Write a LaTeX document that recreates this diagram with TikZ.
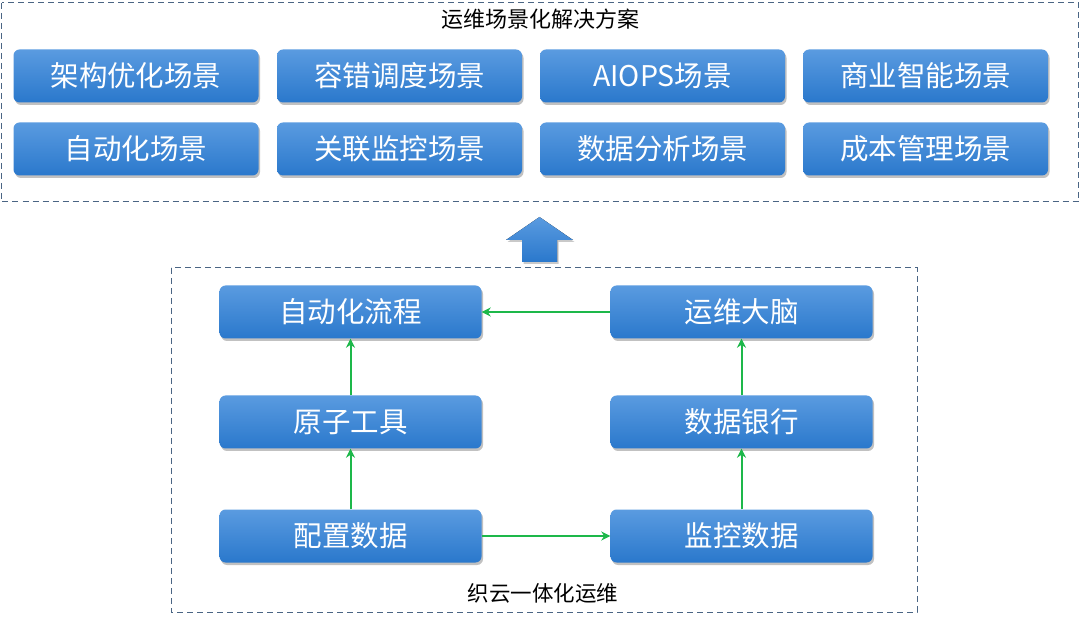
\documentclass[tikz,border=0pt]{standalone}
\usepackage{fontspec}
\newfontfamily\cjk{Noto Sans CJK SC}
\usetikzlibrary{shadows,arrows.meta}
\definecolor{btop}{HTML}{5A9BE0}
\definecolor{bbot}{HTML}{2A78CC}
\definecolor{dashc}{HTML}{4A6584}
\definecolor{garrow}{HTML}{1DB84A}
\tikzset{
  bluebox/.style={rounded corners=6pt, top color=btop, bottom color=bbot, draw=none,
    text=white, font=\cjk\fontsize{28.5}{30}\selectfont, inner sep=0pt,
    drop shadow={shadow xshift=1.5pt, shadow yshift=-2.5pt, opacity=0.35, fill=black!70}},
  topbox/.style={bluebox, minimum width=245pt, minimum height=53pt},
  midbox/.style={bluebox, minimum width=262pt, minimum height=53pt},
  frame/.style={draw=dashc, dashed, dash pattern=on 6pt off 4pt, line width=1pt},
  garr/.style={draw=garrow, line width=2pt, -{Stealth[length=9pt,width=9pt]}},
  lbl/.style={text=black, inner sep=0pt}
}
\begin{document}
\begin{tikzpicture}[x=1pt,y=-1pt]
\useasboundingbox (0,0) rectangle (1080,620);
% top frame
\draw[frame] (1.5,3) rectangle (1078.5,202);
\node[lbl, font=\cjk\fontsize{22}{24}\selectfont] (t1) at (540,19) {运维场景化解决方案};
\node[topbox] (a1) at (136,76) {架构优化场景};
\node[topbox] (a2) at (399.5,76) {容错调度场景};
\node[topbox] (a3) at (662.5,76) {AIOPS场景};
\node[topbox] (a4) at (925.5,76) {商业智能场景};
\node[topbox] (b1) at (136,149) {自动化场景};
\node[topbox] (b2) at (399.5,149) {关联监控场景};
\node[topbox] (b3) at (662.5,149) {数据分析场景};
\node[topbox] (b4) at (925.5,149) {成本管理场景};
% up arrow
\fill[top color=btop, bottom color=bbot,
  drop shadow={shadow xshift=1.5pt, shadow yshift=-2pt, opacity=0.3, fill=black!70}]
  (539.5,217) -- (573,240) -- (557,240) -- (557,262) -- (522,262) -- (522,240) -- (506,240) -- cycle;
% bottom frame
\draw[frame] (171,268) rectangle (917,612);
\node[lbl, font=\cjk\fontsize{21.5}{23}\selectfont] (t2) at (543,593) {织云一体化运维};
\node[midbox] (l1) at (350.5,312) {自动化流程};
\node[midbox] (l2) at (350.5,422) {原子工具};
\node[midbox] (l3) at (350.5,536) {配置数据};
\node[midbox] (r1) at (741.5,312) {运维大脑};
\node[midbox] (r2) at (741.5,422) {数据银行};
\node[midbox] (r3) at (741.5,536) {监控数据};
\draw[garr] (r1.west) -- (l1.east);
\draw[garr] (l3.east) -- (r3.west);
\draw[garr] (l3.north) -- (l2.south);
\draw[garr] (l2.north) -- (l1.south);
\draw[garr] (r3.north) -- (r2.south);
\draw[garr] (r2.north) -- (r1.south);
\end{tikzpicture}
\end{document}
